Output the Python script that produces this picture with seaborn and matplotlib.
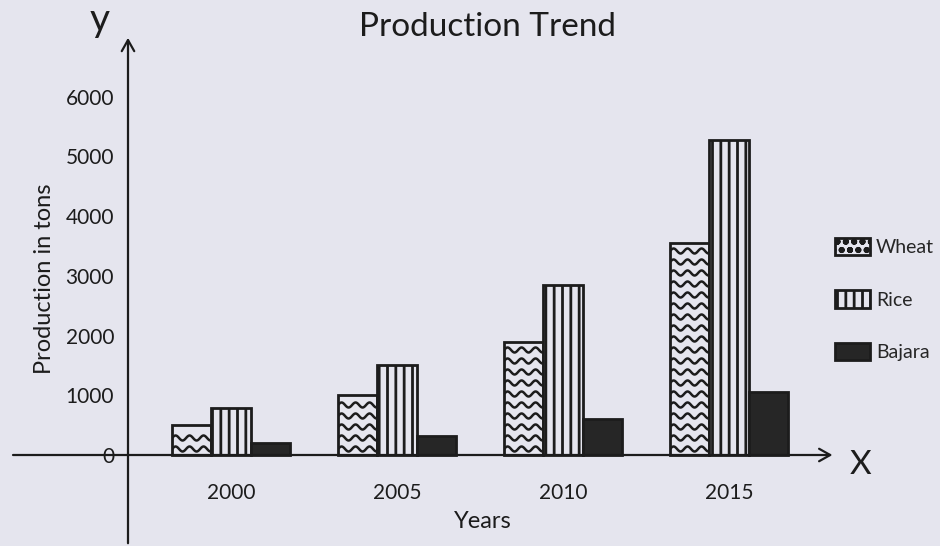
import numpy as np
import pandas as pd
import matplotlib
matplotlib.use('Agg')
import matplotlib.pyplot as plt
import seaborn as sns

# values
years = ['2000', '2005', '2010', '2015']
crops = ['Wheat', 'Rice', 'Bajara']
wheat = [500, 1000, 1900, 3550]
rice = [780, 1500, 2850, 5280]
bajara = [200, 320, 600, 1050]
yticks = [0, 1000, 2000, 3000, 4000, 5000, 6000]

df = pd.DataFrame({'Year': years * 3,
                   'Crop': [c for c in crops for _ in years],
                   'Production': wheat + rice + bajara})

bg = '#e5e5ee'
ink = '#1c1c1c'

sns.set_style('white')
plt.rcParams['font.family'] = ['Lato', 'DejaVu Sans']
plt.rcParams['hatch.linewidth'] = 2.0

fig = plt.figure(figsize=(9.4, 5.46), dpi=100, facecolor=bg)
ax = fig.add_axes([0, 0, 1, 1], facecolor=bg)

sns.barplot(data=df, x='Year', y='Production', hue='Crop', hue_order=crops,
            palette=[bg, bg, '#262626'], saturation=1, width=0.71,
            edgecolor=ink, linewidth=2, ax=ax)

# pixel layout of the scan: group spacing 166px, zero line at 455px
px_x = 1 / 166
px_y = 1000 / 59.7
ax.set_xlim(-231 * px_x, (940 - 231) * px_x)
ax.set_ylim(-(546 - 455) * px_y, 455 * px_y)
xa = (128 - 231) * px_x

for s in ax.spines.values():
    s.set_visible(False)
ax.spines['left'].set_position(('data', xa))
ax.spines['bottom'].set_position(('data', 0))
ax.set_yticks(yticks)
ax.tick_params(axis='y', length=0, pad=10, labelsize=15, labelcolor=ink)
ax.tick_params(axis='x', length=0, pad=20, labelsize=15, labelcolor=ink)
ax.set_xlabel('')
ax.set_ylabel('')

# rice: vertical lines, wheat: wavy lines
wheat_bars, rice_bars, bajara_bars = ax.containers
for p in rice_bars:
    p.set_hatch('||')
for p in wheat_bars:
    x0, y0 = p.get_x(), p.get_y()
    w, h = p.get_width(), p.get_height()
    xs = np.linspace(x0, x0 + w, 80)
    yk = y0 + 6 * px_y
    while yk < y0 + h - 3 * px_y:
        ys = yk + 2.5 * px_y * np.sin(2 * np.pi * (xs - x0) / (14 * px_x))
        ln, = ax.plot(xs, ys, color=ink, lw=1.8)
        ln.set_clip_path(p)
        yk += 11 * px_y

# hand drawn axes with arrows
arrow = dict(arrowstyle='->,head_length=0.8,head_width=0.45', lw=1.6, color=ink)
ax.annotate('', xy=(3.64, 0), xytext=(-1.33, 0), arrowprops=arrow,
            annotation_clip=False)
ax.annotate('', xy=(xa, 7035), xytext=(xa, ax.get_ylim()[0]), arrowprops=arrow,
            annotation_clip=False)

fig.text(100 / 940, 1 - 20 / 546, 'y', fontsize=28, ha='center', va='center', color=ink)
fig.text(860 / 940, 1 - 465 / 546, 'X', fontsize=24, ha='center', va='center', color=ink)
fig.text(487 / 940, 1 - 27 / 546, 'Production Trend', fontsize=24,
         ha='center', va='center', color=ink)
fig.text(45 / 940, 1 - 279 / 546, 'Production in tons', fontsize=17, rotation=90,
         ha='center', va='center', color=ink)
fig.text(483 / 940, 1 - 522 / 546, 'Years', fontsize=17,
         ha='center', va='center', color=ink)

handles, labels = ax.get_legend_handles_labels()
leg = ax.legend(handles, labels, loc='upper left',
                bbox_to_anchor=(835 / 940, 1 - 238 / 546), frameon=False,
                fontsize=14, handlelength=1.8, handleheight=1.0,
                handletextpad=0.3, labelspacing=1.75, borderpad=0,
                borderaxespad=0)
leg.legend_handles[0].set_hatch('oo')
leg.legend_handles[1].set_hatch('||')

fig.savefig('out.png', dpi=100, facecolor=bg)
